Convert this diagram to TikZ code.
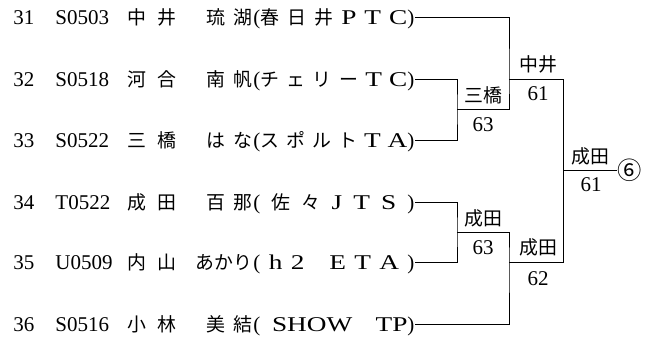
\documentclass[tikz,border=0pt]{standalone}
\usepackage{fontspec}
\setmainfont{Liberation Serif}
\newfontfamily\jp[Scale=0.9]{Noto Sans CJK JP}
\newfontfamily\widelat[FakeStretch=1.3]{Liberation Serif}
\begin{document}
\begin{tikzpicture}[x=1pt,y=-1pt,line width=0.9pt,
  base/.style={inner sep=0pt,font=\fontsize{21}{24}\selectfont},
  num/.style={base,anchor=base west},
  fam/.style={base,anchor=base west,font=\fontsize{21}{24}\selectfont\jp},
  given/.style={base,anchor=base east,font=\fontsize{21}{24}\selectfont\jp},
  team/.style={base,anchor=west,text height=14pt,text depth=0pt},
  lbl/.style={base},
  jlbl/.style={base,font=\fontsize{21}{24}\selectfont\jp}]
\useasboundingbox (0,0) rectangle (657,338);
% row 31
\node[num] (n31) at (13,24) {31};
\node[num] (i31) at (55,24) {S0503};
\node[fam] (f31) at (127,24) {\makebox[49pt][s]{中\hfil 井}};
\node[given] (g31) at (253,24) {琉\kern8pt 湖};
\node[team] (p31) at (253,17) {\makebox[161pt][s]{({\jp 春\hfil 日\hfil 井}\hfil{\widelat P\hfil T\hfil C})}};
% row 32
\node[num] (n32) at (13,86) {32};
\node[num] (i32) at (55,86) {S0518};
\node[fam] (f32) at (127,86) {\makebox[49pt][s]{河\hfil 合}};
\node[given] (g32) at (253,86) {南\kern8pt 帆};
\node[team] (p32) at (253,79) {\makebox[161pt][s]{({\jp チ\hfil ェ\hfil リ\hfil ー}\hfil{\widelat T\hfil C})}};
% row 33
\node[num] (n33) at (13,147) {33};
\node[num] (i33) at (55,147) {S0522};
\node[fam] (f33) at (127,147) {\makebox[49pt][s]{三\hfil 橋}};
\node[given] (g33) at (253,147) {は\kern8pt な};
\node[team] (p33) at (253,140) {\makebox[161pt][s]{({\jp ス\hfil ポ\hfil ル\hfil ト}\hfil{\widelat T\hfil A})}};
% row 34
\node[num] (n34) at (13,209) {34};
\node[num] (i34) at (55,209) {T0522};
\node[fam] (f34) at (127,209) {\makebox[49pt][s]{成\hfil 田}};
\node[given] (g34) at (253,209) {百\kern8pt 那};
\node[team] (p34) at (253,202) {\makebox[161pt][s]{(\hfil{\jp 佐\hfil 々}\hfil{\widelat J\hfil T\hfil S}\hfil)}};
% row 35
\node[num] (n35) at (13,269) {35};
\node[num] (i35) at (55,269) {U0509};
\node[fam] (f35) at (127,269) {\makebox[49pt][s]{内\hfil 山}};
\node[given] (g35) at (253,269) {あかり};
\node[team] (p35) at (253,262) {\makebox[161pt][s]{(\hfil{\widelat h\hfil 2\hfil\hfil\hfil E\hfil T\hfil A}\hfil)}};
% row 36
\node[num] (n36) at (13,331) {36};
\node[num] (i36) at (55,331) {S0516};
\node[fam] (f36) at (127,331) {\makebox[49pt][s]{小\hfil 林}};
\node[given] (g36) at (253,331) {美\kern8pt 結};
\node[team] (p36) at (253,324) {\makebox[161pt][s]{(\hfil{\widelat SHOW}\hfil\hfil{\widelat TP})}};
% bracket
\coordinate (mA) at (457,109);
\coordinate (bx) at (509,79);
\coordinate (cC) at (457,232);
\coordinate (dx) at (509,262);
\coordinate (fin) at (563,170);
\coordinate (fend) at (617,170);
\draw (p32.east) -| (mA) |- (p33.east);
\draw (p31.east) -| (bx) |- (mA);
\draw (bx) -| (fin);
\draw (p34.east) -| (cC) |- (p35.east);
\draw (cC) -| (dx) |- (p36.east);
\draw (dx) -| (fin);
\draw (fin) -- (fend);
\node[jlbl] (wA) at (483,95) {三橋};
\node[lbl] (sA) at (483,125) {63};
\node[jlbl] (wB) at (538,64) {中井};
\node[lbl] (sB) at (538,94) {61};
\node[jlbl] (wC) at (483,218) {成田};
\node[lbl] (sC) at (483,248) {63};
\node[jlbl] (wD) at (538,247) {成田};
\node[lbl] (sD) at (538,279) {62};
\node[jlbl] (wF) at (590,156) {成田};
\node[lbl] (sF) at (591,185) {61};
\node[inner sep=0pt,font=\fontsize{27}{30}\selectfont\jp] (rank) at (630,170) {⑥};
\end{tikzpicture}
\end{document}
